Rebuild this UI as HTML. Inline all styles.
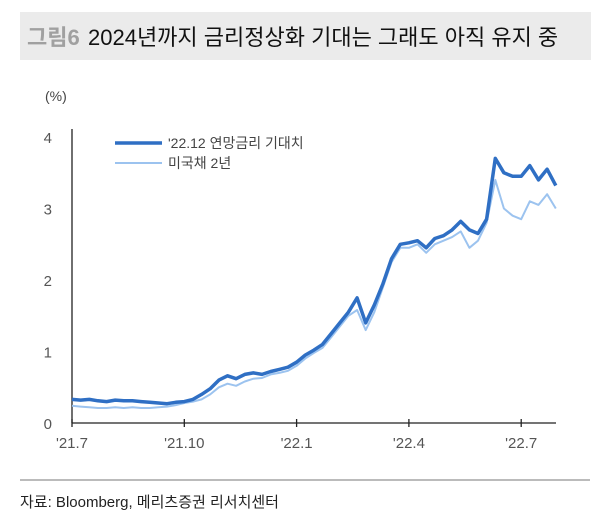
<!DOCTYPE html>
<html><head><meta charset="utf-8"><style>
body{margin:0;width:602px;height:518px;background:#fff;font-family:"Liberation Sans","Noto Sans CJK KR",sans-serif;position:relative;overflow:hidden}
#title{position:absolute;left:20px;top:12px;width:571px;height:48px;background:#ebebeb}
#title span{position:absolute;top:8px;font-size:22px;white-space:nowrap}
</style></head><body>
<div id="title">
<span style="left:7px;color:#a0a0a0;font-weight:bold">그림6</span>
<span style="left:68px;color:#111">2024년까지 금리정상화 기대는 그래도 아직 유지 중</span>
</div>
<svg id="chart" width="602" height="518" style="position:absolute;left:0;top:0"></svg>
<script>
const xLabels=["'21.7","'21.10","'22.1","'22.4","'22.7"];
const yTicks=[0,1,2,3,4];
const seriesNames=["'22.12 연망금리 기대치","미국채 2년"];
const fedExpect=[0.33,0.32,0.33,0.31,0.30,0.32,0.31,0.31,0.30,0.29,0.28,0.27,0.29,0.30,0.33,0.40,0.48,0.60,0.66,0.62,0.68,0.70,0.68,0.72,0.75,0.78,0.85,0.95,1.02,1.10,1.25,1.40,1.55,1.75,1.40,1.65,1.95,2.30,2.50,2.52,2.55,2.45,2.58,2.62,2.70,2.82,2.70,2.65,2.85,3.70,3.50,3.45,3.45,3.60,3.40,3.55,3.32];
const ust2y=[0.24,0.23,0.22,0.21,0.21,0.22,0.21,0.22,0.21,0.21,0.22,0.23,0.25,0.28,0.30,0.33,0.40,0.50,0.55,0.52,0.58,0.62,0.63,0.68,0.70,0.73,0.80,0.90,0.98,1.05,1.20,1.35,1.50,1.58,1.30,1.55,1.90,2.25,2.45,2.45,2.50,2.38,2.50,2.55,2.60,2.68,2.45,2.55,2.80,3.40,3.00,2.90,2.85,3.10,3.05,3.20,3.00];
const NS="http://www.w3.org/2000/svg",svg=document.getElementById('chart');
const x0=72,x1=556,y0=423,yTop=137;
const xq=i=>x0+i*112.3;
const xw=i=>x0+i*(112.3/13);
const y=v=>y0-(v/4)*(y0-yTop);
function mk(t,a){const e=document.createElementNS(NS,t);for(const k in a)e.setAttribute(k,a[k]);svg.appendChild(e);return e;}
let e;
e=mk('line',{x1:x0,y1:y(4)-8,x2:x0,y2:y0,stroke:'#222','stroke-width':1.3});


e=mk('line',{x1:x0,y1:y0,x2:x1,y2:y0,stroke:'#222','stroke-width':1.3});


yTicks.forEach(v=>{
 e=mk('text',{x:52,y:y(v)+6,'text-anchor':'end','font-size':15,fill:'#555'});e.textContent=v;
 
 
});
xLabels.forEach((l,i)=>{
 e=mk('line',{x1:xq(i),y1:y0-4,x2:xq(i),y2:y0+4,stroke:'#222','stroke-width':1.3});
 
 
 e=mk('text',{x:xq(i),y:y0+25,'text-anchor':'middle','font-size':15,fill:'#555'});e.textContent=l;
 
 
});
e=mk('text',{x:45,y:101,'font-size':14,fill:'#444'});e.textContent='(%)';


function path(d){return d.map((v,i)=>(i?'L':'M')+xw(i).toFixed(1)+','+y(v).toFixed(1)).join('');}
e=mk('path',{d:path(ust2y),fill:'none',stroke:'#9cc3ef','stroke-width':2,'stroke-linejoin':'round'});


e=mk('path',{d:path(fedExpect),fill:'none',stroke:'#2f6fc4','stroke-width':3.5,'stroke-linejoin':'round'});


[[seriesNames[0],'#2f6fc4',3.5,143],[seriesNames[1],'#9cc3ef',2,163]].forEach(([n,c,w,yy])=>{
 e=mk('line',{x1:115,y1:yy,x2:162,y2:yy,stroke:c,'stroke-width':w});
 
 
 e=mk('text',{x:168,y:yy+5,'font-size':14,fill:'#444'});e.textContent=n;
 
 
});
e=mk('line',{x1:20,y1:480,x2:590,y2:480,stroke:'#777','stroke-width':1});


e=mk('text',{x:20,y:507,'font-size':15,fill:'#222'});e.textContent='자료: Bloomberg, 메리츠증권 리서치센터';


</script>
</body></html>
